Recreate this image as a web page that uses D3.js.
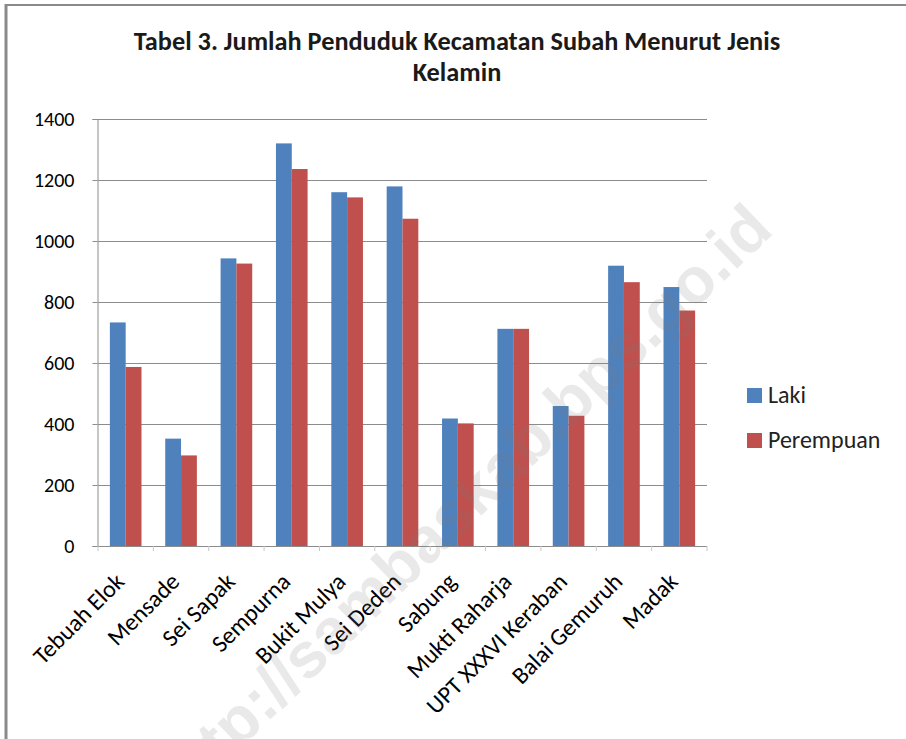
<!DOCTYPE html>
<html>
<head>
<meta charset="utf-8">
<script src="https://cdn.jsdelivr.net/npm/d3@7"></script>
<style>
  body { margin: 0; background: #fff; }
  svg { display: block; }
  text { font-family: Carlito, Lato, "Open Sans", sans-serif; fill: #000; }
</style>
</head>
<body>
<svg class="svg-chart"></svg>
<script>
// data
var kecamatan = ["Tebuah Elok", "Mensade", "Sei Sapak", "Sempurna", "Bukit Mulya",
  "Sei Deden", "Sabung", "Mukti Raharja", "UPT XXXVI Keraban", "Balai Gemuruh", "Madak"];
var laki = [733, 352, 943, 1320, 1160, 1179, 418, 712, 459, 919, 849];
var perempuan = [587, 297, 926, 1236, 1143, 1073, 402, 712, 427, 865, 772];
var seriesNames = ["Laki", "Perempuan"];
var seriesColors = ["#4f81bd", "#c0504d"];
var yTicks = [0, 200, 400, 600, 800, 1000, 1200, 1400];
var titleLines = ["Tabel 3. Jumlah Penduduk Kecamatan Subah Menurut Jenis", "Kelamin"];

var W = 906, H = 739;
var plot = {left: 98, right: 707, top: 119, bottom: 546};

var svg = d3.select(".svg-chart")
    .attr("width", W)
    .attr("height", H);

// frame (top + left edge of the screenshot)
svg.append("line").attr("x1", 5).attr("x2", W).attr("y1", 5).attr("y2", 5)
    .style("stroke", "#8a8a8a").style("stroke-width", 2);
svg.append("line").attr("x1", 6).attr("x2", 6).attr("y1", 4).attr("y2", H)
    .style("stroke", "#8a8a8a").style("stroke-width", 3);

var rows = kecamatan.map(function(k, i) {
  return {name: k, values: [laki[i], perempuan[i]]};
});

var x0 = d3.scaleBand()
    .domain(kecamatan)
    .range([plot.left, plot.right])
    .padding(0);

var x1 = d3.scaleBand()
    .domain(seriesNames)
    .range([0, x0.bandwidth()])
    .paddingInner(0)
    .paddingOuter(0.75);

var y = d3.scaleLinear()
    .domain([0, 1400])
    .range([plot.bottom, plot.top]);

// gridlines
svg.append("g").selectAll("line")
    .data(yTicks.slice(1))
    .enter().append("line")
    .attr("x1", plot.left).attr("x2", plot.right)
    .attr("y1", function(d) { return Math.round(y(d)) + 0.5; })
    .attr("y2", function(d) { return Math.round(y(d)) + 0.5; })
    .style("stroke", "#8c8c8c")
    .style("stroke-width", 1.2);

// y axis
var yAxis = d3.axisLeft(y).tickValues(yTicks).tickFormat(d3.format("d")).tickSize(5).tickPadding(18);
var yg = svg.append("g")
    .attr("transform", "translate(" + (plot.left - 0.5) + ",0)")
    .call(yAxis);
yg.select(".domain").style("stroke", "#8c8c8c");
yg.selectAll(".tick line").style("stroke", "#8c8c8c");
yg.selectAll(".tick text")
    .style("font-size", "20px")
    .style("font-family", "Carlito, Lato, sans-serif")
    .style("fill", "#000");

// bars
var groups = svg.append("g").selectAll("g")
    .data(rows)
    .enter().append("g")
    .attr("transform", function(d) { return "translate(" + x0(d.name) + ",0)"; });

groups.selectAll("rect")
    .data(function(d) { return d.values.map(function(v, j) { return {key: seriesNames[j], value: v, j: j}; }); })
    .enter().append("rect")
    .attr("x", function(d) { return x1(d.key); })
    .attr("width", x1.bandwidth())
    .attr("y", function(d) { return y(d.value); })
    .attr("height", function(d) { return y(0) - y(d.value); })
    .style("fill", function(d) { return seriesColors[d.j]; });

// x axis line + faint ticks
svg.append("line")
    .attr("x1", plot.left).attr("x2", plot.right)
    .attr("y1", plot.bottom + 0.5).attr("y2", plot.bottom + 0.5)
    .style("stroke", "#8c8c8c");

svg.append("g").selectAll("line")
    .data(d3.range(kecamatan.length + 1))
    .enter().append("line")
    .attr("x1", function(i) { return plot.left + i * x0.step(); })
    .attr("x2", function(i) { return plot.left + i * x0.step(); })
    .attr("y1", plot.bottom).attr("y2", plot.bottom + 5)
    .style("stroke", "#c8c8c8");

// category labels, rotated
svg.append("g").selectAll("text")
    .data(kecamatan)
    .enter().append("text")
    .attr("transform", function(d) {
      return "translate(" + (x0(d) + x0.bandwidth() / 2) + "," + (plot.bottom + 37) + ") rotate(-45)";
    })
    .attr("text-anchor", "end")
    .style("font-size", "24px")
    .text(function(d) { return d; });

// title
svg.append("g").selectAll("text")
    .data(titleLines)
    .enter().append("text")
    .attr("x", 457)
    .attr("y", function(d, i) { return 50 + i * 31; })
    .attr("text-anchor", "middle")
    .style("font-size", "26.3px")
    .style("font-weight", "bold")
    .style("fill", "#1a1a1a")
    .text(function(d) { return d; });

// legend
var legend = svg.append("g").selectAll("g")
    .data(seriesNames)
    .enter().append("g")
    .attr("transform", function(d, i) { return "translate(747," + (388 + i * 45) + ")"; });
legend.append("rect")
    .attr("width", 15).attr("height", 15)
    .style("fill", function(d, i) { return seriesColors[i]; });
legend.append("text")
    .attr("x", 21).attr("y", 15)
    .style("font-size", "24px")
    .style("fill", "#222")
    .text(function(d) { return d; });

// watermark
svg.append("text")
    .attr("transform", "translate(775,232) rotate(-44)")
    .attr("text-anchor", "end")
    .style("font-family", "'Liberation Sans', Arial, sans-serif")
    .style("font-weight", "bold")
    .style("font-size", "64px")
    .style("fill", "#7a7a7a")
    .style("opacity", 0.16)
    .text("http://sambaskab.bps.go.id");
</script>
</body>
</html>
